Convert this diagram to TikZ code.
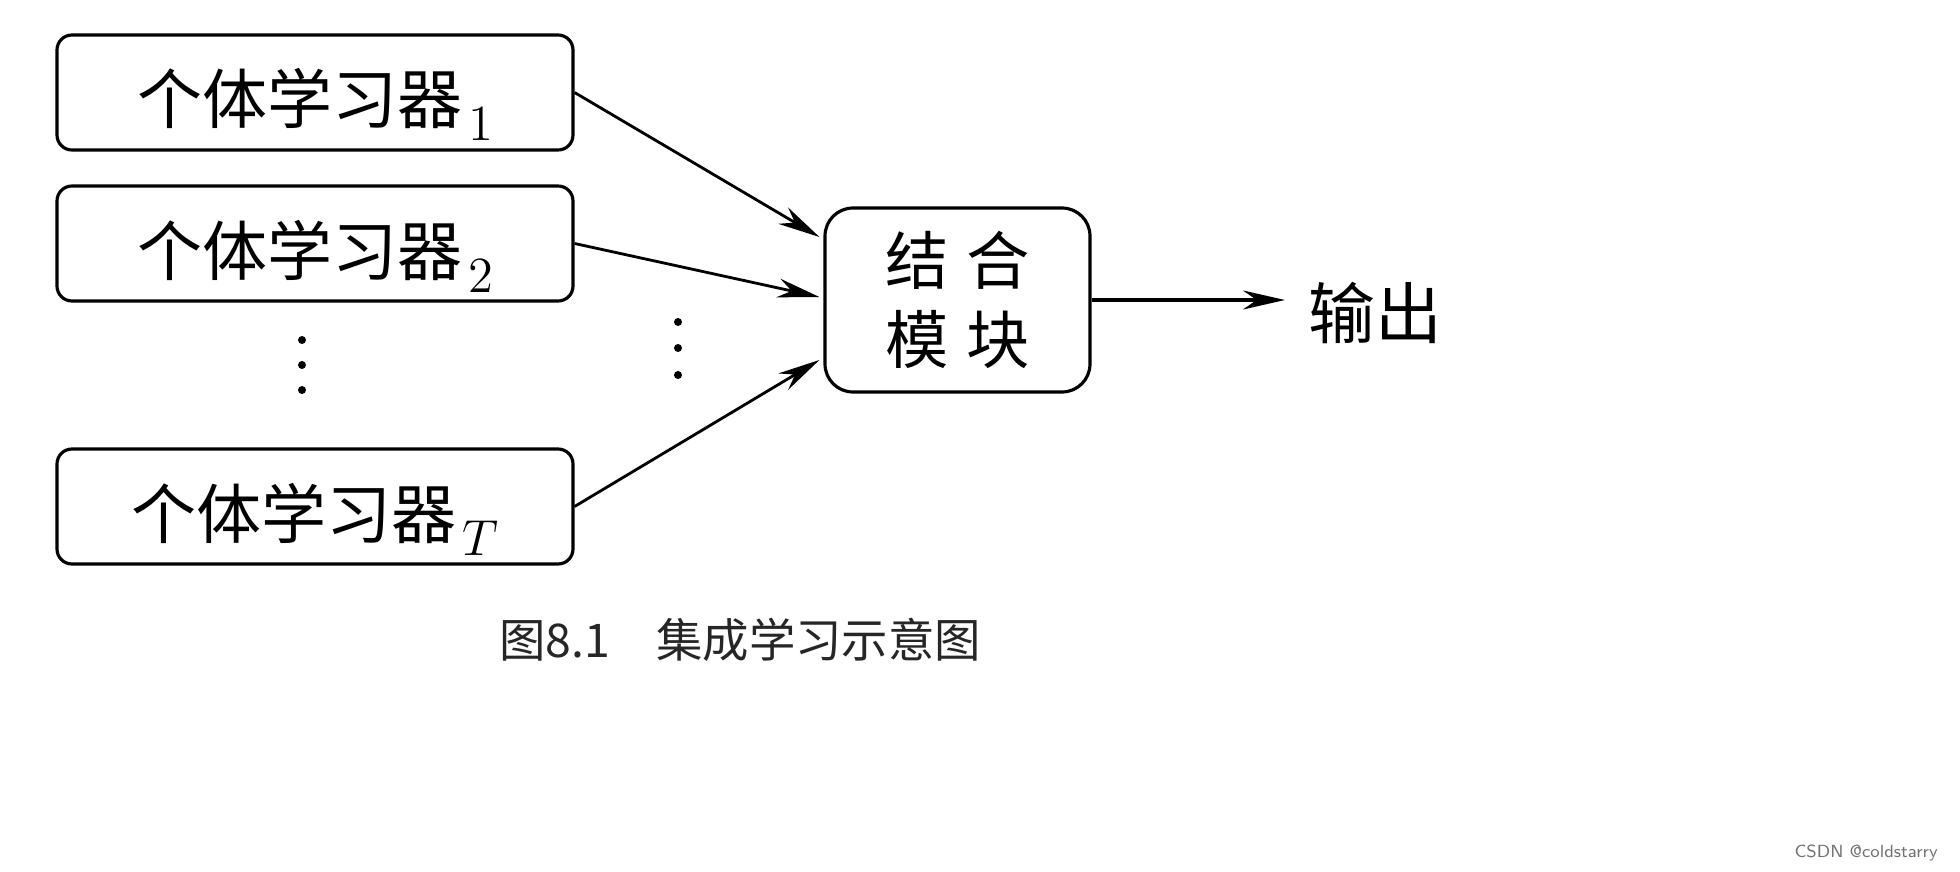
\documentclass[tikz,border=0pt]{standalone}
\usepackage{fontspec}
\newfontfamily\cjk{Noto Sans CJK SC}
\usetikzlibrary{arrows.meta, positioning}
\newcommand{\lsub}[1]{\hspace{0.06cm}\smash{\raisebox{-0.17cm}{\fontsize{14}{14}\selectfont$#1$}}}
\tikzstyle{learner} = [rectangle, rounded corners=0.15cm, minimum width=5.16cm, minimum height=1.15cm, text centered, text height=0.69cm, text depth=0.06cm, inner sep=0.1cm, draw=black, line width=0.9pt, font=\cjk\fontsize{18.5}{18.5}\selectfont]
\tikzstyle{combiner} = [rectangle, rounded corners=0.28cm, minimum width=2.65cm, minimum height=1.84cm, align=center, draw=black, line width=0.9pt, font=\cjk\fontsize{18}{22.7}\selectfont]
\tikzstyle{arrow} = [line width=0.8pt, -{Stealth[length=0.42cm,width=0.19cm]}]
\tikzstyle{dotmark} = [circle, fill=black, inner sep=0pt, minimum size=0.08cm]
\tikzstyle{caption} = [font=\cjk\fontsize{13.2}{13.2}\selectfont, text=black!85]

\begin{document}
\begin{tikzpicture}[node distance=1.51cm]

\fill[white] (0,0) rectangle (19.6,-8.72);
\useasboundingbox (0,0) rectangle (19.6,-8.72);

%<learners>
\node (lrn1) [learner] at (3.15,-0.925) {个体学习器\lsub{1}};
\node (lrn2) [learner, below of=lrn1] {个体学习器\lsub{2}};
\node (lrnT) [learner, below of=lrn2, yshift=-1.12cm] {个体学习器\lsub{T}};

% vertical dots
\foreach \i/\y in {1/-3.40, 2/-3.65, 3/-3.90}
  \node (dl\i) [dotmark] at (3.02,\y) {};
\foreach \i/\y in {1/-3.22, 2/-3.48, 3/-3.75}
  \node (dm\i) [dotmark] at (6.78,\y) {};

%<combiner and output>
\node (comb) [combiner] at (9.575,-3.0) {结\hspace{0.18cm}合\\模\hspace{0.18cm}块};
\node (out) [font=\cjk\fontsize{19}{19}\selectfont, anchor=west, inner sep=0pt] at (13.08,-3.13) {输出};

\node (cap) [caption] at (7.4,-6.4) {图8.1\quad 集成学习示意图};
\node (mark) [font=\sffamily\fontsize{5}{5}\selectfont, text=black!55, anchor=east] at (19.5,-8.53) {CSDN @coldstarry};

%% connectors
\draw [arrow] (lrn1.east) -- ([xshift=-0.04cm, yshift=0.63cm]comb.west);
\draw [arrow] (lrn2.east) -- ([xshift=-0.04cm, yshift=0.03cm]comb.west);
\draw [arrow] (lrnT.east) -- ([xshift=-0.04cm, yshift=-0.6cm]comb.west);
\draw [arrow, line width=1pt] (comb.east) -- ([xshift=-0.23cm]comb.east -| out.west);

\end{tikzpicture}
\end{document}
